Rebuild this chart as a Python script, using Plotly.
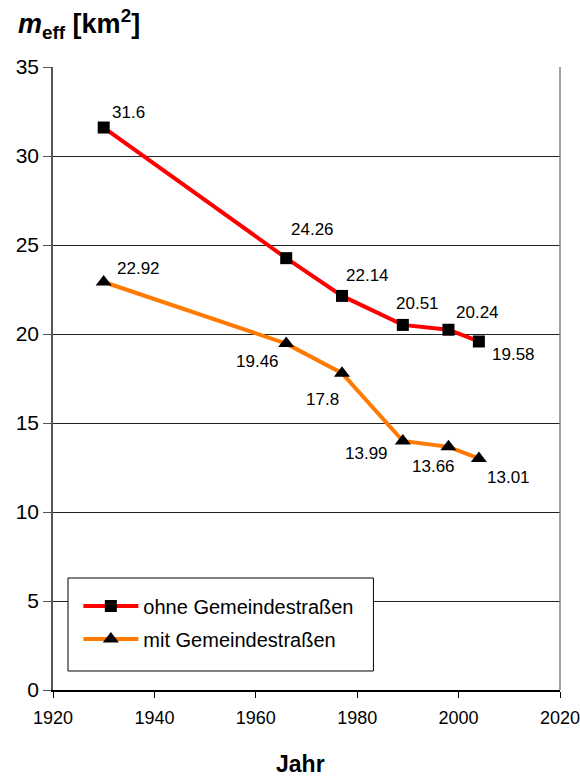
import plotly.graph_objects as go

years = [1930, 1966, 1977, 1989, 1998, 2004]
ohne = [31.6, 24.26, 22.14, 20.51, 20.24, 19.58]
mit = [22.92, 19.46, 17.8, 13.99, 13.66, 13.01]
ohne_name = "ohne Gemeindestraßen"
mit_name = "mit Gemeindestraßen"

# label offsets (px) for each point
ohne_off = [(25, 15), (26, 29), (26, 20), (15, 21), (29, 17), (35, -13)]
mit_off = [(35, 14), (-29, -18), (-19, -26), (-36, -13), (-15, -20), (30, -19)]

FONT = "Liberation Sans, Arial, sans-serif"

fig = go.Figure()
fig.add_trace(go.Scatter(
    x=years, y=ohne, name=ohne_name, mode="lines+markers",
    line=dict(color="#ff0000", width=4),
    marker=dict(symbol="square", size=12, color="black"),
    legendgroup="a",
))
fig.add_trace(go.Scatter(
    x=years, y=mit, name=mit_name, mode="lines+markers",
    line=dict(color="#ff7a00", width=4),
    marker=dict(symbol="triangle-up", size=14, color="black"),
    legendgroup="b",
))

for x, y, (dx, dy) in zip(years, ohne, ohne_off):
    fig.add_annotation(x=x, y=y, text=f"{y:g}", showarrow=False,
                       xshift=dx, yshift=dy, font=dict(size=17, color="black", family=FONT))
for x, y, (dx, dy) in zip(years, mit, mit_off):
    fig.add_annotation(x=x, y=y, text=f"{y:g}", showarrow=False,
                       xshift=dx, yshift=dy, font=dict(size=17, color="black", family=FONT))

fig.add_annotation(xref="paper", yref="paper", x=-0.072, y=1.035, xanchor="left", yanchor="bottom",
                   text="<b><i>m</i><sub>eff</sub> [km<sup>2</sup>]</b>", showarrow=False,
                   font=dict(size=27, color="black", family=FONT))
fig.add_annotation(xref="paper", yref="paper", x=0.488, y=-0.119, xanchor="center", yanchor="middle",
                   text="<b>Jahr</b>", showarrow=False,
                   font=dict(size=23, color="black", family=FONT))

# legend box
fig.add_shape(type="rect", xref="paper", yref="paper", x0=0.0296, x1=0.632, y0=0.0305, y1=0.1798,
              line=dict(color="black", width=1), fillcolor="white", layer="above")
# right border
fig.add_shape(type="line", xref="paper", yref="paper", x0=1, x1=1, y0=0, y1=1,
              line=dict(color="#808080", width=1.5))

fig.update_layout(
    width=580, height=776,
    margin=dict(l=53, r=20, t=67, b=86, autoexpand=False),
    paper_bgcolor="white", plot_bgcolor="white",
    font=dict(family=FONT, size=18, color="black"),
    showlegend=True,
    legend=dict(x=0.05, y=0.166, xanchor="left", yanchor="top",
                bgcolor="rgba(0,0,0,0)", font=dict(size=20, family=FONT),
                traceorder="grouped", tracegroupgap=4, itemwidth=55),
    xaxis=dict(range=[1920, 2020], tickvals=[1920, 1940, 1960, 1980, 2000, 2020],
               showgrid=False, showline=True, linecolor="black", linewidth=1.5,
               ticks="outside", ticklen=6, tickcolor="black", zeroline=False,
               tickfont=dict(size=18), ticklabeloverflow="allow", automargin=False,
               ticklabelstandoff=5),
    yaxis=dict(range=[0, 35], tickvals=[0, 5, 10, 15, 20, 25, 30, 35],
               showgrid=True, gridcolor="#222222", gridwidth=1,
               showline=True, linecolor="#555555", linewidth=1.5,
               ticks="outside", ticklen=8, tickcolor="#555555", zeroline=False,
               tickfont=dict(size=21), automargin=False),
)

fig.write_html("out.html", config={"displayModeBar": False},
               post_script="document.body.style.margin='0';document.body.style.overflow='hidden';")
